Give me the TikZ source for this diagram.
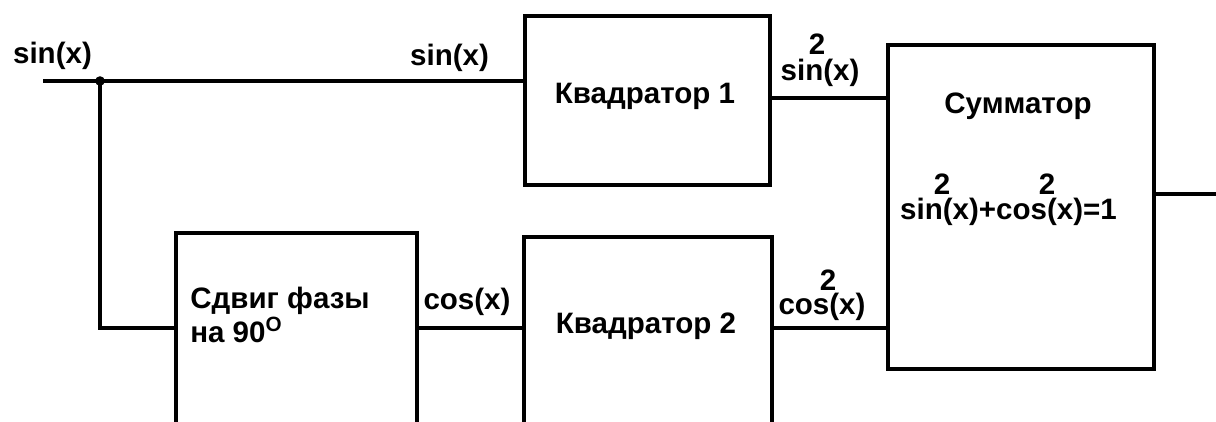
\documentclass[tikz,border=0pt]{standalone}
\usepackage{fontspec}
\setmainfont{Liberation Sans}
\usetikzlibrary{calc}
\tikzset{
	blok/.style={draw, line width=2.8pt, inner sep=0pt},
	wire/.style={line width=2.8pt},
	txt/.style={font=\fontsize{21pt}{24pt}\selectfont\bfseries, inner sep=0pt, anchor=base},
}

\begin{document}
\begin{tikzpicture}[x=0.025cm, y=-0.025cm]
		%%%%% START %%%%%
		\useasboundingbox (0,0) rectangle (1216,421);
		\clip (0,0) rectangle (1216,421);
		
		\node[blok, minimum width=6.125cm, minimum height=4.225cm] (kv1) at (647.5,100.5) {};
		\node[blok, minimum width=6.65cm, minimum height=8.1cm] (sum) at (1021,207) {};
		\node[blok, minimum width=6.025cm, minimum height=5.175cm] (sdvig) at (296.5,336.5) {};
		\node[blok, minimum width=6.2cm, minimum height=5.075cm] (kv2) at (648,338.5) {};
		
		\coordinate (vx) at (43,81);
		\coordinate (uzel) at (100,81);
		\coordinate (hi) at (0,98);
		\coordinate (lo) at (0,328);
		\coordinate (mid) at (0,194);
		\coordinate (vyx) at (1230,194);
		
		\draw[wire] (vx) -- (vx -| kv1.west);
		\fill (uzel) circle (0.12cm);
		\draw[wire] (uzel) |- (sdvig.west |- lo);
		\draw[wire] (sdvig.east |- lo) -- (kv2.west |- lo);
		\draw[wire] (kv1.east |- hi) -- (sum.west |- hi);
		\draw[wire] (kv2.east |- lo) -- (sum.west |- lo);
		\draw[wire] (sum.east |- mid) -- (vyx);
		
		\node[txt] (s0) at (52.5,63) {sin(x)};
		\node[txt] (s1) at (449.5,65) {sin(x)};
		\node[txt] (k1) at (645,103) {Квадратор 1};
		\node[txt] (s2) at (820,80) {sin(x)};
		\node[txt] (s2p) at (817,54) {2};
		\node[txt] (sm) at (1018,113) {Сумматор};
		\node[txt] (frm) at (1008.5,219) {sin(x)+cos(x)=1};
		\node[txt] (f2a) at (942,194) {2};
		\node[txt] (f2b) at (1047,194) {2};
		\node[txt] (c2) at (822,314) {cos(x)};
		\node[txt] (c2p) at (828,290) {2};
		\node[txt] (c1) at (467,309) {cos(x)};
		\node[txt] (k2) at (646,333) {Квадратор 2};
		\node[txt, anchor=base west, align=left] (sd) at (190,342) {Сдвиг фазы\\на 90\textsuperscript{O}};
		
		%%%%% END %%%%%
\end{tikzpicture}
\end{document}
